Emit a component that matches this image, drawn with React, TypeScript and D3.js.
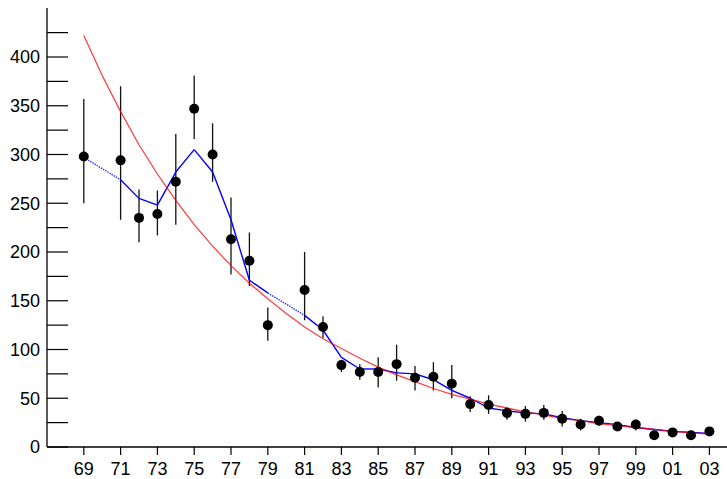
import React from 'react';
import * as d3 from 'd3';

// observed years (1970 and 1980 have no entry)
const years = [1969, 1971, 1972, 1973, 1974, 1975, 1976, 1977, 1978, 1979, 1981, 1982, 1983, 1984, 1985, 1986, 1987,
  1988, 1989, 1990, 1991, 1992, 1993, 1994, 1995, 1996, 1997, 1998, 1999, 2000, 2001, 2002, 2003];
const counts = [298, 294, 235, 239, 272, 347, 300, 213, 191, 125, 161, 123, 84, 77, 77, 85, 71,
  72, 65, 44, 43, 35, 34, 35, 29, 23, 27, 21, 23, 12, 15, 12, 16];
const errHigh = [357, 370, 264, 263, 321, 381, 332, 256, 220, 143, 200, 134, 89, 85, 92, 105, 83,
  87, 84, 52, 53, 41, 42, 43, 37, 29, 32, 24, 28, 14, 19, 14, 18];
const errLow = [250, 233, 210, 217, 228, 316, 272, 177, 165, 109, 130, 112, 77, 69, 61, 68, 58,
  58, 50, 36, 34, 28, 26, 28, 21, 17, 22, 19, 17, 11, 11, 10, 14];
// smoothed (blue) value per observed year
const smoothed = [297, 274, 255, 248, 282, 305, 282, 233, 171, 158, 135, 120, 92, 80, 80, 76, 75,
  69, 58, 50, 40, 37, 35, 34, 30, 27, 25, 23, 20, 18, 16, 15, 14];
// fitted exponential (red), one value per year 1969..2003
const fitYears = d3.range(1969, 2004);
const fitValues = [422, 381, 344, 310, 280, 253, 228, 206, 186, 168, 152, 137, 123, 111, 101, 91, 82,
  74, 67, 60, 54, 49, 44, 40, 36, 33, 29, 27, 24, 22, 20, 18, 16, 14.6, 13.2];
const tickYears = d3.range(1969, 2004, 2);
const yTicks = d3.range(0, 450, 25);

const W = 727;
const H = 479;
const font = '"Liberation Sans", Arial, sans-serif';

export default function App() {
  const x = d3.scaleLinear().domain([1967, 2004]).range([47, 727.8]);
  const y = d3.scaleLinear().domain([0, 450]).range([447, 8.25]);

  const line = d3.line<[number, number]>().x(d => x(d[0])).y(d => y(d[1]));
  const fitPath = line(fitYears.map((yr, i) => [yr, fitValues[i]]) as [number, number][]);

  // blue segments, dotted where a year is missing
  const segs = years.slice(1).map((yr, i) => ({
    d: line([[years[i], smoothed[i]], [yr, smoothed[i + 1]]]),
    gap: yr - years[i] > 1,
  }));

  return (
    <svg width={W} height={H} style={{ position: 'absolute', left: 0, top: 0, background: '#fff' }}>
      {/* y axis */}
      <line x1={47} x2={47} y1={8} y2={447} stroke="#000" strokeWidth={1.3} />
      {yTicks.map(v => (
        <line key={'yt' + v} x1={47} x2={68} y1={y(v)} y2={y(v)} stroke="#000" strokeWidth={1.2} />
      ))}
      {yTicks.filter(v => v % 50 === 0).map(v => (
        <text key={'yl' + v} x={40} y={y(v)} dy="0.36em" textAnchor="end" fontFamily={font} fontSize={18}>{v}</text>
      ))}
      {/* x axis */}
      <line x1={47} x2={727} y1={447} y2={447} stroke="#000" strokeWidth={1.3} />
      {tickYears.map(yr => (
        <g key={'xt' + yr}>
          <line x1={x(yr)} x2={x(yr)} y1={447} y2={455} stroke="#000" strokeWidth={1.2} />
          <text x={x(yr)} y={475} textAnchor="middle" fontFamily={font} fontSize={18}>
            {String(yr % 100).padStart(2, '0')}
          </text>
        </g>
      ))}
      {/* error bars */}
      {years.map((yr, i) => (
        <line key={'e' + yr} x1={x(yr)} x2={x(yr)} y1={y(errHigh[i])} y2={y(errLow[i])} stroke="#111" strokeWidth={1.3} />
      ))}
      {/* smoothed curve */}
      {segs.map((s, i) => (
        <path key={'s' + i} d={s.d ?? ''} fill="none" stroke="#0000ff" strokeWidth={1.4}
          strokeDasharray={s.gap ? '1.5,1' : undefined} opacity={s.gap ? 0.8 : 1} />
      ))}
      {/* fit */}
      <path d={fitPath ?? ''} fill="none" stroke="#ff0000" strokeWidth={1.3} opacity={0.75} />
      {/* points */}
      {years.map((yr, i) => (
        <circle key={'p' + yr} cx={x(yr)} cy={y(counts[i])} r={5} fill="#000" />
      ))}
    </svg>
  );
}
